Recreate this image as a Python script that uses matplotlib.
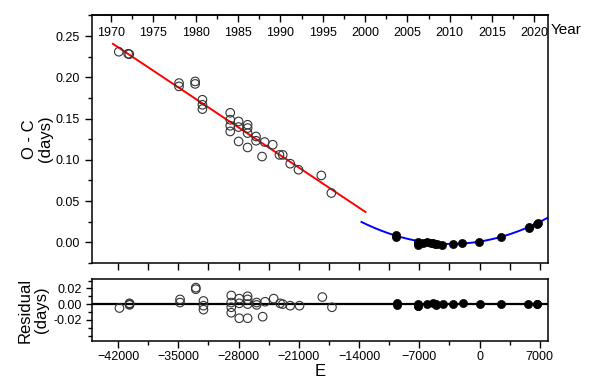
import matplotlib
matplotlib.use("Agg")
import matplotlib.pyplot as plt
from matplotlib.ticker import MultipleLocator, FixedLocator
import numpy as np

plt.rcParams['font.family'] = ['Liberation Sans', 'DejaVu Sans']

# ---------------- data ----------------
# historical (open circles) O-C
hist_E = [-41920, -40830, -40700, -34920, -34920, -33050, -33050,
          -32200, -32200, -32200,
          -28970, -28970, -28970, -28970,
          -28000, -28000, -28000,
          -26950, -26950, -26950, -26950,
          -25970, -25970, -25270, -24970, -24030,
          -23250, -22870, -22000, -21040, -18390, -17220]
hist_OC = [0.231, 0.2285, 0.2280, 0.193, 0.189, 0.195, 0.192,
           0.1728, 0.1667, 0.1615,
           0.157, 0.1486, 0.1413, 0.1344,
           0.1465, 0.1397, 0.1223,
           0.1425, 0.1385, 0.1324, 0.115,
           0.1283, 0.1231, 0.104, 0.1216, 0.1183,
           0.106, 0.106, 0.0953, 0.088, 0.0811, 0.0598]

# modern (filled circles) O-C
mod_E = [-9700, -9700, -7120, -7120, -7120, -6600, -6140, -5700, -5370,
         -5170, -4900, -4390, -3100, -2050, -100, 2500, 5720, 5720, 6620, 6800]
mod_OC = [0.0095, 0.0068, 0.0005, -0.0010, -0.0028, -0.0008, 0.0, -0.0010,
          -0.0007, -0.0020, -0.0025, -0.0028, -0.0020, -0.0004, 0.0, 0.006,
          0.0174, 0.0185, 0.0226, 0.024]

# residuals (open)
hres_E = [-41840, -40670, -40670, -40670, -34800, -34800, -32970, -32970,
          -32080, -32080, -32080,
          -28850, -28850, -28850, -28850,
          -27920, -27920, -27920,
          -26950, -26950, -26950, -26950,
          -25900, -25900, -25200, -24920, -23920, -23170, -22870,
          -22000, -20920, -18270, -17150]
hres = [-0.005, 0.001, -0.001, 0.0, 0.006, 0.002, 0.021, 0.019,
        0.004, -0.002, -0.007,
        0.011, 0.002, -0.004, -0.011,
        0.007, 0.001, -0.018,
        0.010, 0.006, 0.0, -0.018,
        0.002, -0.001, -0.016, 0.003, 0.007, 0.001, 0.0,
        -0.002, -0.002, 0.009, -0.004]

# residuals (filled)
mres_E = [-9640, -9640, -7120, -7120, -7120, -6140, -5370, -5050, -5050,
          -4200, -3030, -1980, 0, 2500, 5650, 6700, 6700]
mres = [0.001, -0.001, 0.0, -0.002, -0.003, 0.0, 0.001, 0.0, -0.001,
        0.0, 0.0, 0.001, 0.0, 0.0, 0.0, 0.0, 0.0]

# linear fit (red) endpoints
lin_E = [-42600, -13250]
lin_OC = [0.2406, 0.0368]
# quadratic fit (blue): vertex form coefficients
quad_vertex_E = -3377
quad_min = -0.0019
quad_k = 2.487e-10
quad_range = [-13720, 7950]

# year conversion
year_at_E0 = 2013.52
cycles_per_year = 984.0

year_ticks = [1970, 1975, 1980, 1985, 1990, 1995, 2000, 2005, 2010, 2015, 2020]
E_ticks = [-42000, -35000, -28000, -21000, -14000, -7000, 0, 7000]
res_ticks = [-0.02, 0.0, 0.02]

# ---------------- figure ----------------
W, H = 600, 384
fig = plt.figure(figsize=(6, 3.84), dpi=100)
ax = fig.add_axes([92 / W, 1 - 263 / H, 456 / W, 248 / H])
axr = fig.add_axes([92 / W, 1 - 341 / H, 456 / W, 62 / H])

xlim = (-45030, 7950)

# main panel
ax.plot(lin_E, lin_OC, color='red', lw=1.4, zorder=2)
qE = np.linspace(quad_range[0], quad_range[1], 200)
ax.plot(qE, quad_min + quad_k * (qE - quad_vertex_E) ** 2, color='blue', lw=1.4, zorder=2)
ax.scatter(hist_E, hist_OC, s=38, facecolors='none', edgecolors='#333333',
           linewidths=0.8, zorder=3)
ax.scatter(mod_E, mod_OC, s=34, facecolors='black', edgecolors='black',
           linewidths=0.5, zorder=4)

ax.set_xlim(xlim)
ax.set_ylim(-0.025, 0.2755)
ax.xaxis.set_major_locator(FixedLocator(E_ticks))
ax.xaxis.set_minor_locator(MultipleLocator(3500))
ax.yaxis.set_major_locator(MultipleLocator(0.05))
ax.yaxis.set_minor_locator(MultipleLocator(0.025))
ax.yaxis.set_major_formatter(plt.FormatStrFormatter('%.2f'))
ax.tick_params(axis='x', which='both', bottom=True, top=False, labelbottom=False,
               direction='out', length=5, width=1)
ax.tick_params(axis='y', which='major', direction='out', length=5, width=1, labelsize=9)
ax.tick_params(axis='y', which='minor', direction='out', length=3, width=1)
ax.set_ylabel('O - C\n(days)', fontsize=12, linespacing=1.1)
for s in ax.spines.values():
    s.set_linewidth(1.1)

# top year axis
def e2y(E):
    return year_at_E0 + np.asarray(E) / cycles_per_year

def y2e(Y):
    return (np.asarray(Y) - year_at_E0) * cycles_per_year

sec = ax.secondary_xaxis('top', functions=(e2y, y2e))
sec.xaxis.set_major_locator(FixedLocator(year_ticks))
sec.xaxis.set_minor_locator(MultipleLocator(2.5))
sec.tick_params(axis='x', which='major', direction='in', length=5, width=1,
                labelsize=9, pad=-17)
sec.tick_params(axis='x', which='minor', direction='in', length=3, width=1)
sec.spines['top'].set_linewidth(1.1)
fig.text(551 / W, 1 - 30 / H, 'Year', fontsize=11, ha='left', va='center')

# residual panel
axr.axhline(0, color='black', lw=1.6, zorder=2)
axr.scatter(hres_E, hres, s=38, facecolors='none', edgecolors='#333333',
            linewidths=0.8, zorder=3)
axr.scatter(mres_E, mres, s=34, facecolors='black', edgecolors='black',
            linewidths=0.5, zorder=4)
axr.set_xlim(xlim)
axr.set_ylim(-0.047, 0.032)
axr.xaxis.set_major_locator(FixedLocator(E_ticks))
axr.xaxis.set_minor_locator(MultipleLocator(3500))
axr.yaxis.set_major_locator(FixedLocator(res_ticks))
axr.yaxis.set_minor_locator(MultipleLocator(0.01))
axr.yaxis.set_major_formatter(plt.FormatStrFormatter('%.2f'))
axr.tick_params(axis='x', which='major', direction='out', length=5, width=1,
                labelsize=9, pad=2)
axr.tick_params(axis='x', which='minor', direction='out', length=3, width=1)
axr.tick_params(axis='y', which='major', direction='out', length=4, width=1, labelsize=9)
axr.tick_params(axis='y', which='minor', direction='out', length=3, width=1)
axr.set_ylabel('Residual\n(days)', fontsize=12, linespacing=1.1)
axr.set_xlabel('E', fontsize=12, labelpad=1)
for s in axr.spines.values():
    s.set_linewidth(1.1)

ax.yaxis.set_label_coords(-0.085, 0.5)
axr.yaxis.set_label_coords(-0.095, 0.5)

fig.savefig('out.png', dpi=100)
